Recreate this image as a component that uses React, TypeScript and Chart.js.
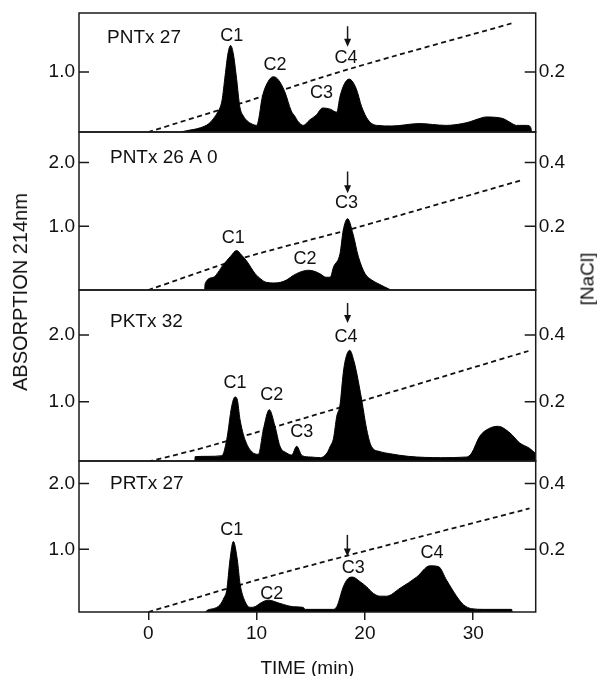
import React, { useEffect, useRef } from 'react';
import { Chart, registerables } from 'chart.js';

Chart.register(...registerables);

const FONT = '"Liberation Sans", Arial, Helvetica, sans-serif';

// ---------- shared axis data ----------
const xTicks = [0, 10, 20, 30];
const xMin = -6.4;
const xMax = 35.77;
const naclPerAbs = 0.2;

const panelNames = ['PNTx 27', 'PNTx 26 A 0', 'PKTx 32', 'PRTx 27'];
const panelNameT = [-3.81, -3.54, -3.54, -3.54];
const panelNameY = [1.56, 2.07, 2.2, 2.0];

// ---------- panel 1 : PNTx 27 ----------
const p1Time = [3.0, 3.5, 4.8, 5.6, 6.0, 6.4, 6.8, 7.1, 7.35, 7.6, 7.85, 8.15, 8.45, 8.8, 9.1, 9.6, 10.0, 10.2, 10.5, 11.0, 11.55, 12.0, 12.6, 13.2, 13.5, 13.85, 14.3, 14.9, 15.5, 16.1, 16.8, 17.4, 17.7, 18.1, 18.55, 19.2, 19.7, 20.3, 21.1, 22.5, 25.0, 27.5, 29.0, 29.7, 30.5, 31.2, 32.0, 32.8, 33.5, 34.0, 35.0, 35.3, 35.4];
const p1Abs = [0.0, 0.02, 0.07, 0.14, 0.22, 0.33, 0.52, 0.95, 1.3, 1.44, 1.3, 0.89, 0.42, 0.26, 0.19, 0.13, 0.11, 0.22, 0.56, 0.82, 0.92, 0.87, 0.67, 0.35, 0.27, 0.17, 0.11, 0.2, 0.28, 0.4, 0.38, 0.33, 0.59, 0.8, 0.88, 0.72, 0.42, 0.2, 0.11, 0.1, 0.14, 0.11, 0.14, 0.17, 0.22, 0.25, 0.245, 0.22, 0.15, 0.11, 0.11, 0.08, 0.0];
const p1NaclTime = [0, 8.5, 18.6, 33.7];
const p1Nacl = [0, 0.095, 0.21, 0.363];
const p1AbsTicks = [1.0];
const p1NaclTicks = [0.2];
const p1Labels = ['C1', 'C2', 'C3', 'C4'];
const p1LabelT = [7.7, 11.7, 16.0, 18.25];
const p1LabelY = [1.6, 1.11, 0.65, 1.23];
const p1Arrow = [18.4, 1.76, 1.42];

// ---------- panel 2 : PNTx 26 A 0 ----------
const p2Time = [5.2, 5.25, 6.0, 6.9, 7.6, 8.15, 8.6, 9.1, 9.85, 10.4, 10.9, 11.6, 12.2, 12.8, 13.4, 14.0, 14.8, 15.4, 15.9, 16.4, 16.8, 17.1, 17.7, 18.0, 18.4, 18.9, 19.4, 20.0, 20.6, 21.1, 21.8, 22.4];
const p2Abs = [0.0, 0.1, 0.2, 0.39, 0.53, 0.62, 0.55, 0.45, 0.26, 0.17, 0.12, 0.11, 0.12, 0.16, 0.23, 0.28, 0.31, 0.29, 0.25, 0.2, 0.2, 0.36, 0.57, 0.94, 1.12, 0.88, 0.52, 0.26, 0.16, 0.11, 0.05, 0.0];
const p2NaclTime = [0, 8.5, 18.9, 34.5];
const p2Nacl = [0, 0.098, 0.193, 0.345];
const p2AbsTicks = [1.0, 2.0];
const p2NaclTicks = [0.2, 0.4];
const p2Labels = ['C1', 'C2', 'C3'];
const p2LabelT = [7.85, 14.47, 18.3];
const p2LabelY = [0.81, 0.48, 1.36];
const p2Arrow = [18.4, 1.86, 1.52];

// ---------- panel 3 : PKTx 32 ----------
const p3Time = [4.3, 4.32, 5.5, 6.8, 7.24, 7.7, 8.0, 8.2, 8.47, 8.93, 9.55, 10.16, 10.62, 11.17, 11.7, 12.16, 12.78, 13.24, 13.7, 14.2, 15.0, 15.9, 16.5, 16.8, 17.1, 17.4, 17.7, 18.0, 18.2, 18.6, 19.0, 19.24, 19.7, 20.17, 20.6, 21.4, 22.3, 24.0, 27.0, 29.4, 29.86, 30.6, 31.5, 32.3, 33.4, 34.3, 35.2, 35.77];
const p3Abs = [0.1, 0.175, 0.18, 0.19, 0.43, 0.93, 1.07, 1.04, 0.73, 0.43, 0.25, 0.21, 0.58, 0.88, 0.63, 0.33, 0.23, 0.2, 0.33, 0.19, 0.17, 0.16, 0.23, 0.33, 0.45, 0.78, 0.95, 1.43, 1.63, 1.77, 1.6, 1.43, 1.03, 0.58, 0.33, 0.25, 0.22, 0.18, 0.16, 0.17, 0.23, 0.48, 0.6, 0.63, 0.53, 0.38, 0.3, 0.22];
const p3NaclTime = [0, 6.0, 35.1];
const p3Nacl = [0.02, 0.07, 0.352];
const p3AbsTicks = [1.0, 2.0];
const p3NaclTicks = [0.2, 0.4];
const p3Labels = ['C1', 'C2', 'C3', 'C4'];
const p3LabelT = [8.0, 11.4, 14.16, 18.25];
const p3LabelY = [1.28, 1.1, 0.55, 1.97];
const p3Arrow = [18.4, 2.48, 2.18];

// ---------- panel 4 : PRTx 27 ----------
const p4Time = [5.3, 5.33, 6.0, 6.62, 7.0, 7.24, 7.54, 7.85, 8.22, 8.47, 8.93, 9.39, 9.85, 10.3, 11.08, 12.16, 13.4, 14.3, 14.5, 17.0, 17.4, 18.0, 18.4, 18.85, 19.55, 20.17, 20.8, 21.4, 22.0, 23.24, 24.78, 26.0, 26.78, 27.55, 28.5, 29.1, 29.86, 31.0, 33.55, 33.6];
const p4Abs = [0.045, 0.06, 0.1, 0.16, 0.27, 0.38, 0.84, 1.12, 0.84, 0.48, 0.21, 0.12, 0.13, 0.18, 0.23, 0.18, 0.13, 0.12, 0.09, 0.09, 0.13, 0.43, 0.55, 0.58, 0.51, 0.43, 0.33, 0.29, 0.29, 0.41, 0.58, 0.75, 0.74, 0.53, 0.28, 0.16, 0.1, 0.09, 0.09, 0.045];
const p4NaclTime = [0, 12.2, 35.2];
const p4Nacl = [0.01, 0.127, 0.324];
const p4AbsTicks = [1.0, 2.0];
const p4NaclTicks = [0.2, 0.4];
const p4Labels = ['C1', 'C2', 'C3', 'C4'];
const p4LabelT = [7.7, 11.4, 18.93, 26.2];
const p4LabelY = [1.29, 0.32, 0.71, 0.94];
const p4Arrow = [18.38, 1.22, 0.89];

// axis ranges (absorbance units) per panel
const absRanges = [
  [0, 1.98],
  [0, 2.48],
  [0.11, 2.675],
  [0.05, 2.34],
];

const panels = [
  { time: p1Time, abs: p1Abs, naclTime: p1NaclTime, nacl: p1Nacl, absTicks: p1AbsTicks, naclTicks: p1NaclTicks, labels: p1Labels, labelT: p1LabelT, labelY: p1LabelY, arrow: p1Arrow },
  { time: p2Time, abs: p2Abs, naclTime: p2NaclTime, nacl: p2Nacl, absTicks: p2AbsTicks, naclTicks: p2NaclTicks, labels: p2Labels, labelT: p2LabelT, labelY: p2LabelY, arrow: p2Arrow },
  { time: p3Time, abs: p3Abs, naclTime: p3NaclTime, nacl: p3Nacl, absTicks: p3AbsTicks, naclTicks: p3NaclTicks, labels: p3Labels, labelT: p3LabelT, labelY: p3LabelY, arrow: p3Arrow },
  { time: p4Time, abs: p4Abs, naclTime: p4NaclTime, nacl: p4Nacl, absTicks: p4AbsTicks, naclTicks: p4NaclTicks, labels: p4Labels, labelT: p4LabelT, labelY: p4LabelY, arrow: p4Arrow },
];

// ---------- layout ----------
const W = 597;
const H = 676;
const LEFT_W = 79;
const RIGHT_W = 61.3;
const PANEL_TOP = [13, 132, 290, 461];
const PANEL_BOTTOM = [132, 290, 461, 612];
const PAD = 14;

function makeDeco(i: number) {
  const p = panels[i];
  return {
    id: 'panelDeco' + i,
    afterDatasetsDraw(chart: any) {
      const { ctx, chartArea: a, scales } = chart;
      const xs = scales.x;
      const ys = scales.y;
      const y2 = scales.y2;
      ctx.save();
      ctx.strokeStyle = '#1a1a1a';
      ctx.lineWidth = 1.5;
      // inward tick marks
      ctx.beginPath();
      for (const t of ys.ticks) {
        const py = ys.getPixelForValue(t.value);
        ctx.moveTo(a.left, py);
        ctx.lineTo(a.left + 10, py);
      }
      for (const t of y2.ticks) {
        const py = y2.getPixelForValue(t.value);
        ctx.moveTo(a.right - 11, py);
        ctx.lineTo(a.right, py);
      }
      ctx.stroke();
      // frame
      ctx.strokeRect(a.left, a.top, a.right - a.left, a.bottom - a.top);

      // peak labels
      ctx.fillStyle = '#111';
      ctx.font = `18px ${FONT}`;
      ctx.textAlign = 'center';
      ctx.textBaseline = 'middle';
      p.labels.forEach((s: string, k: number) => {
        ctx.fillText(s, xs.getPixelForValue(p.labelT[k]), ys.getPixelForValue(p.labelY[k]));
      });

      // arrow
      const ax = xs.getPixelForValue(p.arrow[0]);
      const aTop = ys.getPixelForValue(p.arrow[1]);
      const aTip = ys.getPixelForValue(p.arrow[2]);
      ctx.beginPath();
      ctx.moveTo(ax, aTop);
      ctx.lineTo(ax, aTip - 5);
      ctx.stroke();
      ctx.beginPath();
      ctx.moveTo(ax - 3.5, aTip - 8);
      ctx.lineTo(ax + 3.5, aTip - 8);
      ctx.lineTo(ax, aTip);
      ctx.closePath();
      ctx.fill();

      // panel name
      ctx.textAlign = 'left';
      ctx.font = `19px ${FONT}`;
      ctx.fillText(panelNames[i], xs.getPixelForValue(panelNameT[i]), ys.getPixelForValue(panelNameY[i]));
      ctx.restore();
    },
  };
}

function Panel({ i }: { i: number }) {
  const ref = useRef<HTMLCanvasElement>(null);
  const isBottom = i === panels.length - 1;
  const top = PANEL_TOP[i] - PAD;
  const height = isBottom ? H - top : PANEL_BOTTOM[i] - PANEL_TOP[i] + 2 * PAD;

  useEffect(() => {
    const p = panels[i];
    const [lo, hi] = absRanges[i];
    const tickFont = { family: FONT, size: 19 };
    const chart = new Chart(ref.current as HTMLCanvasElement, {
      type: 'line',
      data: {
        datasets: [
          {
            data: p.time.map((t: number, k: number) => ({ x: t, y: p.abs[k] })),
            yAxisID: 'y',
            fill: 'start',
            backgroundColor: '#000',
            borderColor: '#000',
            borderWidth: 1,
            pointRadius: 0,
            cubicInterpolationMode: 'monotone',
          },
          {
            data: p.naclTime.map((t: number, k: number) => ({ x: t, y: p.nacl[k] })),
            yAxisID: 'y2',
            fill: false,
            borderColor: '#111',
            borderWidth: 1.8,
            borderDash: [5, 3.5],
            pointRadius: 0,
            tension: 0.3,
          },
        ],
      } as any,
      options: {
        responsive: false,
        animation: false,
        events: [],
        devicePixelRatio: 1,
        layout: { padding: { left: 0, right: 0, top: PAD, bottom: isBottom ? 0 : PAD } },
        plugins: { legend: { display: false }, tooltip: { enabled: false }, title: { display: false } },
        scales: {
          x: {
            type: 'linear',
            min: xMin,
            max: xMax,
            display: isBottom,
            afterBuildTicks: (s: any) => { s.ticks = xTicks.map((v) => ({ value: v })); },
            afterFit: (s: any) => {
              s.height = isBottom ? H - PANEL_BOTTOM[i] : 0;
              s.paddingLeft = 0;
              s.paddingRight = 0;
            },
            grid: { display: true, drawOnChartArea: false, drawTicks: true, tickLength: 8, color: '#1a1a1a', lineWidth: 1.5 },
            border: { display: false },
            ticks: { font: tickFont, color: '#111', padding: 2, maxRotation: 0, autoSkip: false, callback: (v: any) => String(v) },
            title: { display: true, text: 'TIME (min)', color: '#111', font: { family: FONT, size: 19, lineHeight: 0.75 }, padding: { top: 0, bottom: 0 } },
          },
          y: {
            type: 'linear',
            position: 'left',
            min: lo,
            max: hi,
            afterBuildTicks: (s: any) => { s.ticks = p.absTicks.map((v: number) => ({ value: v })); },
            afterFit: (s: any) => { s.width = LEFT_W; s.paddingTop = 0; s.paddingBottom = 0; },
            grid: { display: false, drawTicks: false },
            border: { display: false },
            ticks: { font: tickFont, color: '#111', padding: 4, autoSkip: false, callback: (v: any) => Number(v).toFixed(1) },
          },
          y2: {
            type: 'linear',
            position: 'right',
            min: lo * naclPerAbs,
            max: hi * naclPerAbs,
            afterBuildTicks: (s: any) => { s.ticks = p.naclTicks.map((v: number) => ({ value: v })); },
            afterFit: (s: any) => { s.width = RIGHT_W; s.paddingTop = 0; s.paddingBottom = 0; },
            grid: { display: false, drawTicks: false },
            border: { display: false },
            ticks: { font: tickFont, color: '#111', padding: 3, autoSkip: false, callback: (v: any) => Number(v).toFixed(1) },
          },
        },
      } as any,
      plugins: [makeDeco(i)],
    });
    return () => chart.destroy();
  }, [i]);

  return (
    <canvas
      ref={ref}
      width={W}
      height={height}
      style={{ position: 'absolute', left: 0, top, width: W, height, display: 'block' }}
    />
  );
}

export default function App() {
  const titleStyle: React.CSSProperties = {
    position: 'absolute',
    fontFamily: FONT,
    color: '#111',
    whiteSpace: 'nowrap',
    transform: 'translate(-50%, -50%) rotate(-90deg)',
    lineHeight: 1,
  };
  return (
    <div style={{ position: 'absolute', left: 0, top: 0, width: W, height: H, background: '#fff', overflow: 'hidden' }}>
      {panels.map((_, i) => (
        <Panel key={i} i={i} />
      ))}
      <div style={{ ...titleStyle, fontSize: 20, left: 20, top: 292 }}>ABSORPTION 214nm</div>
      <div style={{ ...titleStyle, fontSize: 19, left: 587, top: 279 }}>[NaCl]</div>
    </div>
  );
}
